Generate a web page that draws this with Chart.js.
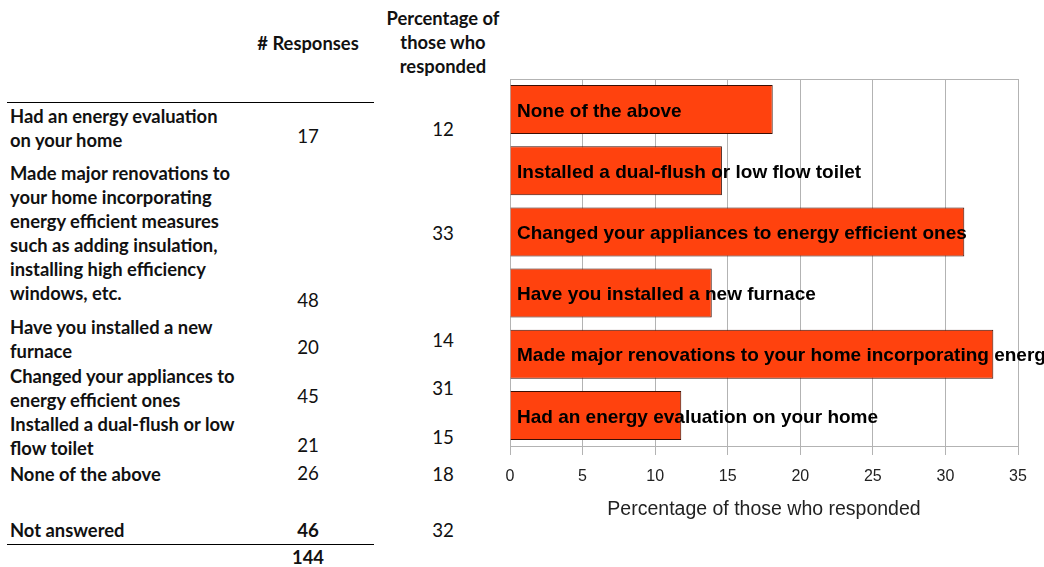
<!DOCTYPE html>
<html>
<head>
<meta charset="utf-8">
<script src="https://cdn.jsdelivr.net/npm/chart.js@4"></script>
<style>
html,body{margin:0;padding:0;background:#fff;}
body{width:1044px;height:567px;position:relative;overflow:hidden;font-family:Lato,"Open Sans",sans-serif;color:#111;}
.t{position:absolute;white-space:pre-line;}
.lbl{font-weight:bold;line-height:24px;left:10px;}
.num{transform:translate(-50%,-50%);text-align:center;white-space:nowrap;}
.hdr{font-weight:bold;text-align:center;line-height:24px;transform:translateX(-50%);}
.rule{position:absolute;left:7px;width:367px;height:0;border-top:1px solid #000;}
#chartWrap{position:absolute;left:470px;top:0;width:574px;height:567px;}
</style>
</head>
<body>
<div id="tbl"></div>
<div id="chartWrap"><canvas id="c" width="574" height="567"></canvas></div>
<script>
// ---- data ----
const categories = [
  "Had an energy evaluation\non your home",
  "Made major renovations to\nyour home incorporating\nenergy efficient measures\nsuch as adding insulation,\ninstalling high efficiency\nwindows, etc.",
  "Have you installed a new\nfurnace",
  "Changed your appliances to\nenergy efficient ones",
  "Installed a dual-flush or low\nflow toilet",
  "None of the above"
];
const responses = [17, 48, 20, 45, 21, 26];
const pctShown = [12, 33, 14, 31, 15, 18];
const pctValues = [11.8, 33.3, 13.9, 31.3, 14.6, 18.1];
const notAnsweredLabel = "Not answered";
const notAnswered = 46;
const notAnsweredPct = 32;
const totalResponses = 144;
const headerResponses = "# Responses";
const headerPct = "Percentage of\nthose who\nresponded";
const axisTitle = "Percentage of those who responded";

// ---- table layout ----
const mctx = document.createElement('canvas').getContext('2d');
mctx.font = 'bold 100px Lato';
const labelSize = 100 * 208 / mctx.measureText('Had an energy evaluation').width;
mctx.font = '100px Lato';
const numSize = 100 * 21.7 / mctx.measureText('17').width;

const tbl = document.getElementById('tbl');
function add(cls, text, style) {
  const d = document.createElement('div');
  d.className = 't ' + cls;
  d.textContent = text;
  Object.assign(d.style, style);
  tbl.appendChild(d);
  return d;
}
const colResp = 308, colPct = 443;
add('hdr', headerResponses, {left: colResp + 'px', top: '31px', fontSize: labelSize + 'px'});
add('hdr', headerPct, {left: colPct + 'px', top: '6px', fontSize: labelSize + 'px'});

const labelTop = [104, 161, 315, 364, 412, 462];
const respY = [136, 300, 347, 396, 445, 473];
const pctY = [129, 233, 340, 388, 437, 474];
categories.forEach((c, i) => {
  add('lbl', c, {top: labelTop[i] + 'px', fontSize: labelSize + 'px'});
  add('num', String(responses[i]), {left: colResp + 'px', top: respY[i] + 'px', fontSize: numSize + 'px'});
  add('num', String(pctShown[i]), {left: colPct + 'px', top: pctY[i] + 'px', fontSize: numSize + 'px'});
});
add('lbl', notAnsweredLabel, {top: '518px', fontSize: labelSize + 'px'});
add('num', String(notAnswered), {left: colResp + 'px', top: '530px', fontSize: numSize + 'px', fontWeight: 'bold'});
add('num', String(notAnsweredPct), {left: colPct + 'px', top: '530px', fontSize: numSize + 'px'});
add('num', String(totalResponses), {left: colResp + 'px', top: '557px', fontSize: labelSize + 'px', fontWeight: 'bold'});
const r1 = document.createElement('div'); r1.className = 'rule'; r1.style.top = '102px'; tbl.appendChild(r1);
const r2 = document.createElement('div'); r2.className = 'rule'; r2.style.top = '544px'; tbl.appendChild(r2);

// ---- chart ----
const barLabels = {
  id: 'barLabels',
  afterDatasetsDraw(chart) {
    const ctx = chart.ctx;
    const meta = chart.getDatasetMeta(0);
    ctx.save();
    ctx.font = 'bold 19px "Liberation Sans", Arial, sans-serif';
    ctx.fillStyle = '#000';
    ctx.textBaseline = 'middle';
    meta.data.forEach((bar, i) => {
      ctx.fillText(chart.data.labels[i], chart.chartArea.left + 7, bar.y + 2);
    });
    ctx.restore();
  }
};

const gridColor = '#b3b3b3';
new Chart(document.getElementById('c'), {
  type: 'bar',
  data: {
    labels: categories.map(s => s.replace(/\n/g, ' ')),
    datasets: [{
      data: pctValues,
      backgroundColor: '#ff420e',
      borderColor: '#3a0e04',
      borderWidth: 1,
      barPercentage: 0.8,
      categoryPercentage: 1
    }]
  },
  options: {
    indexAxis: 'y',
    responsive: false,
    animation: false,
    devicePixelRatio: 1,
    layout: {padding: {top: 79, right: 26, left: 0, bottom: 0}},
    plugins: {legend: {display: false}, tooltip: {enabled: false}},
    scales: {
      y: {
        reverse: true,
        ticks: {display: false},
        grid: {display: false, drawTicks: false},
        border: {color: gridColor},
        afterFit(s) { s.width = 40; }
      },
      x: {
        min: 0, max: 35,
        ticks: {stepSize: 5, color: '#222', font: {family: '"Liberation Sans", Arial, sans-serif', size: 16}, padding: 12},
        grid: {color: gridColor, tickLength: 9},
        border: {color: gridColor},
        title: {display: true, text: axisTitle, color: '#222', font: {family: '"Liberation Sans", Arial, sans-serif', size: 19.5}, padding: {top: 0, bottom: 46}},
        afterFit(s) { s.height = 121; }
      },
      x2: {
        type: 'linear', position: 'top', min: 0, max: 35,
        ticks: {display: false},
        grid: {display: false, drawTicks: false},
        border: {color: gridColor},
        afterFit(s) { s.height = 0; }
      }
    }
  },
  plugins: [barLabels]
});
</script>
</body>
</html>
